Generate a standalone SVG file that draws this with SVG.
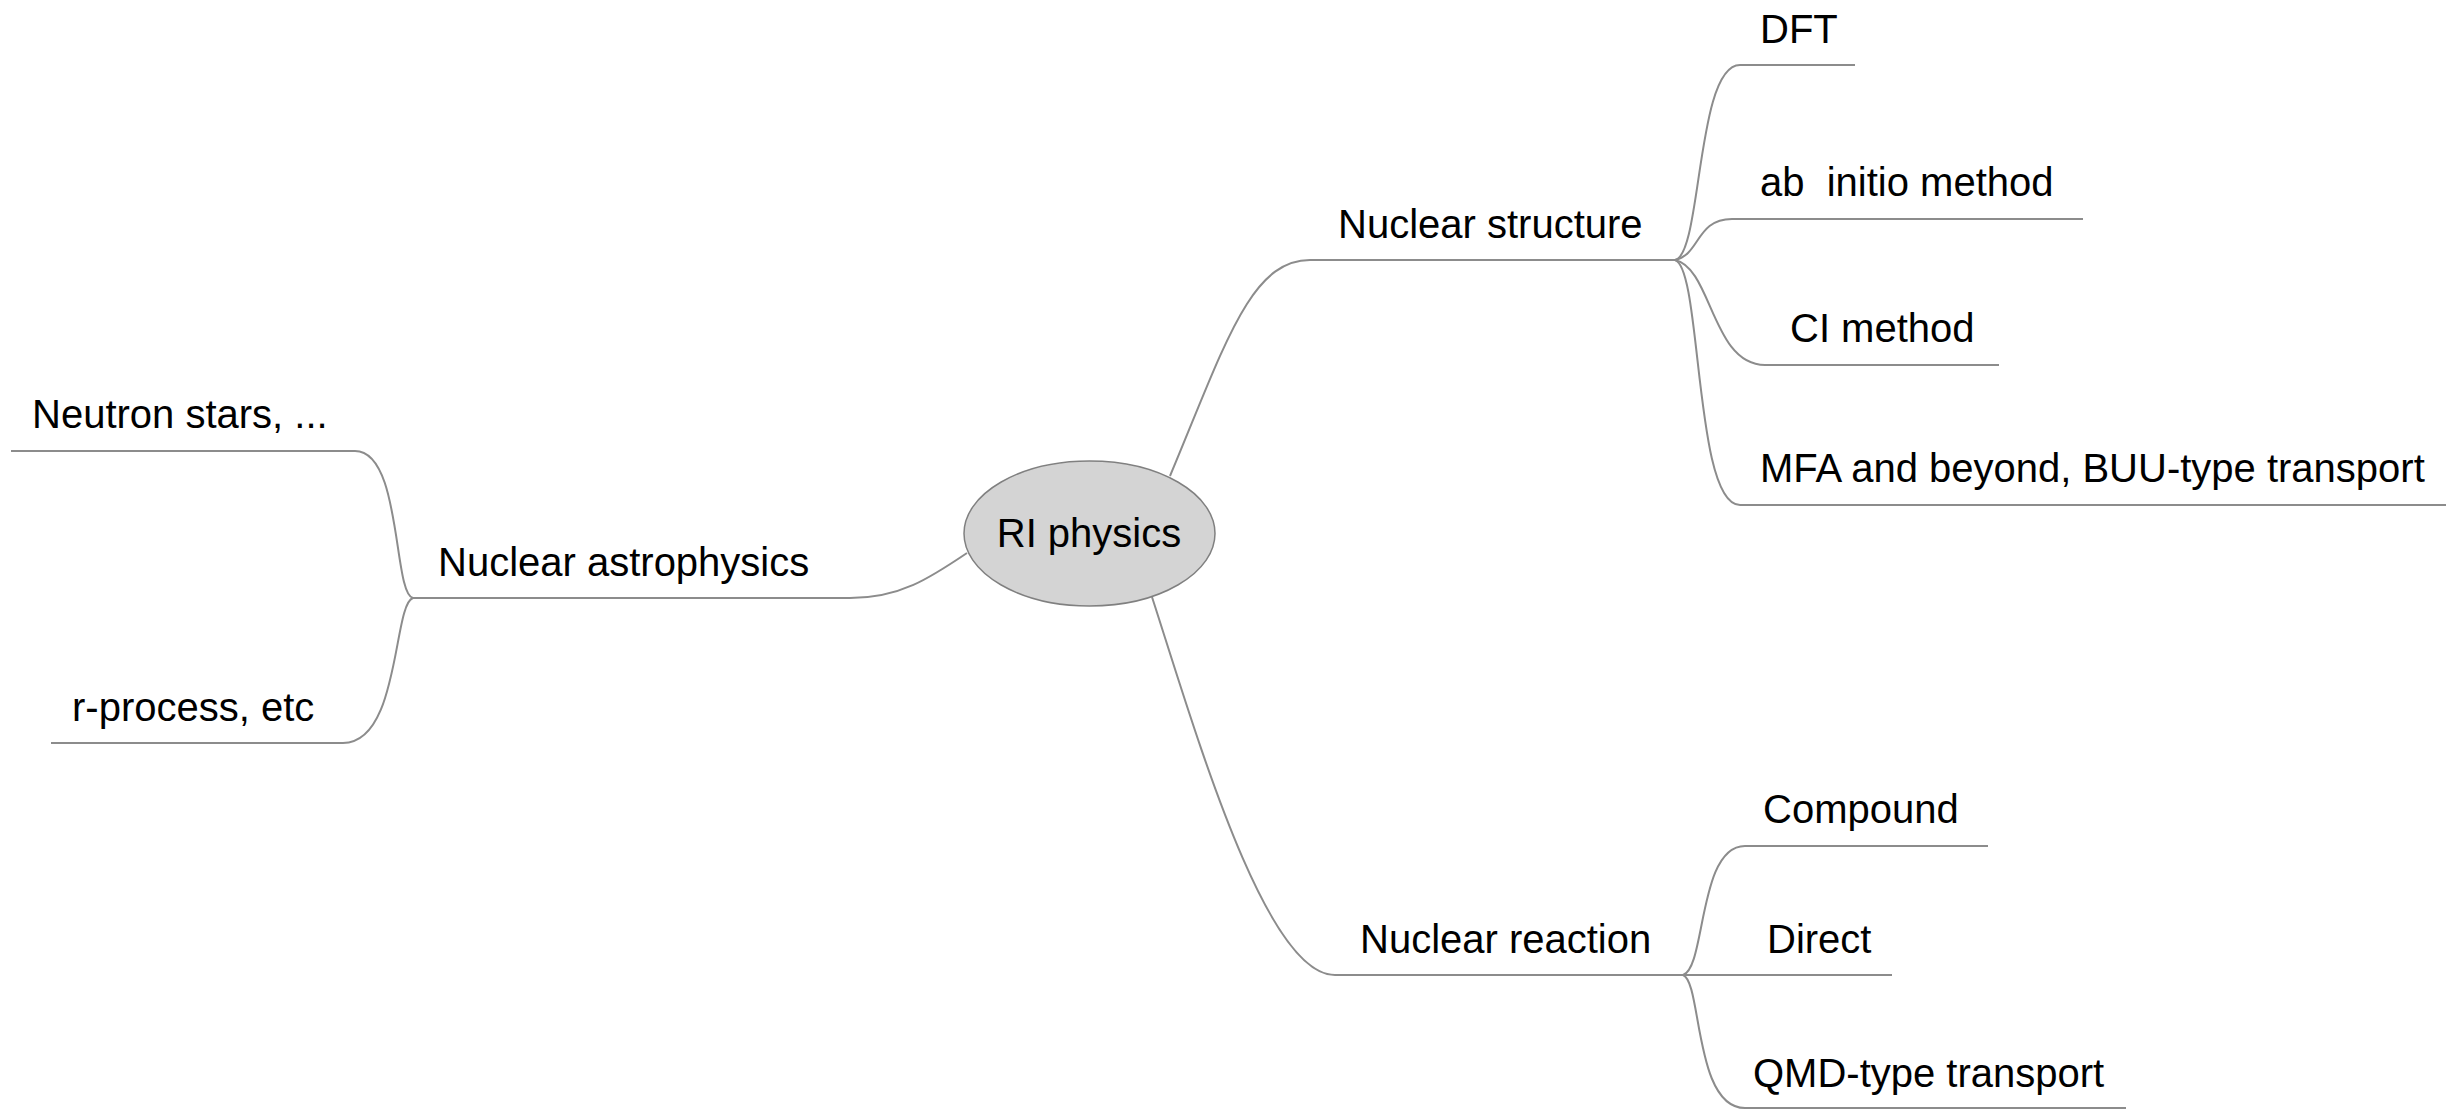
<svg xmlns="http://www.w3.org/2000/svg" width="2446" height="1110" viewBox="0 0 2446 1110">
<style>
  .c { fill: none; stroke: #8c8c8c; stroke-width: 2; }
  .t { font-family: "Liberation Sans", Arial, sans-serif; font-size: 40px; fill: #000; white-space: pre; }
  .root { fill: #d4d4d4; stroke: #808080; stroke-width: 1.5; }
</style>
<rect width="2446" height="1110" fill="#fff"/>
<g id="connectors">
  <path class="c" d="M1170,476 C1225,345 1250,260 1310,260 L1675,260"/>
  <path class="c" d="M1675,260 C1702,255 1696,65 1740,65 L1855,65"/>
  <path class="c" d="M1675,260 C1700,255 1696,219 1732,219 L2083,219"/>
  <path class="c" d="M1675,260 C1712,268 1712,365 1765,365 L1999,365"/>
  <path class="c" d="M1675,260 C1702,268 1694,505 1740,505 L2446,505"/>
  <path class="c" d="M967,553 C930,578 900,598 850,598 L413,598"/>
  <path class="c" d="M413,598 C393,594 402,451 355,451 L11,451"/>
  <path class="c" d="M413,598 C393,604 400,743 343,743 L51,743"/>
  <path class="c" d="M1152,597 C1195,730 1265,975 1335,975 L1683,975"/>
  <path class="c" d="M1683,975 C1706,968 1698,846 1745,846 L1988,846"/>
  <path class="c" d="M1683,975 L1892,975"/>
  <path class="c" d="M1683,975 C1702,982 1694,1108 1745,1108 L2126,1108"/>
</g>
<g id="root">
  <ellipse class="root" cx="1089.5" cy="533.5" rx="125.5" ry="72.5"/>
  <text class="t" x="1089" y="547" text-anchor="middle">RI physics</text>
</g>
<g id="nuclear-structure"><text class="t" x="1338" y="238">Nuclear structure</text></g>
<g id="dft"><text class="t" x="1760" y="43">DFT</text></g>
<g id="ab-initio"><text class="t" x="1760" y="196" xml:space="preserve">ab  initio method</text></g>
<g id="ci-method"><text class="t" x="1790" y="342">CI method</text></g>
<g id="mfa"><text class="t" x="1760" y="482">MFA and beyond, BUU-type transport</text></g>
<g id="nuclear-astrophysics"><text class="t" x="438" y="576">Nuclear astrophysics</text></g>
<g id="neutron-stars"><text class="t" x="32" y="428">Neutron stars, ...</text></g>
<g id="r-process"><text class="t" x="72" y="721">r-process, etc</text></g>
<g id="nuclear-reaction"><text class="t" x="1360" y="953">Nuclear reaction</text></g>
<g id="compound"><text class="t" x="1763" y="823">Compound</text></g>
<g id="direct"><text class="t" x="1767" y="953">Direct</text></g>
<g id="qmd"><text class="t" x="1753" y="1087">QMD-type transport</text></g>
</svg>
